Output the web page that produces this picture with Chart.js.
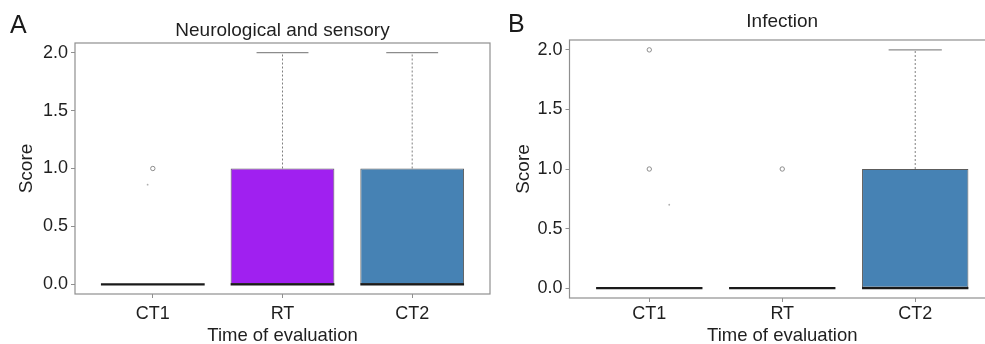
<!DOCTYPE html>
<html>
<head>
<meta charset="utf-8">
<script src="https://cdn.jsdelivr.net/npm/chart.js@4/dist/chart.umd.min.js"></script>
<style>
  body { margin: 0; overflow: hidden; background: #fff; }
  .panel { position: absolute; top: 0; height: 350px; }
  .tag { position: absolute; font: 25px/25px 'Liberation Sans', Arial, sans-serif; color: #1a1a1a; }
</style>
</head>
<body>
<div class="panel" style="left:0;width:495px"><canvas id="chartA"></canvas></div>
<div class="panel" style="left:490px;width:510px"><canvas id="chartB"></canvas></div>
<div class="tag" style="left:10px;top:12px">A</div>
<div class="tag" style="left:508px;top:11px">B</div>
<script>
const categories = ['CT1', 'RT', 'CT2']
const xPositions = [1, 2, 3]
const yTicks = [0, 0.5, 1, 1.5, 2]

// A: neurological and sensory
const neuroQ1 = [0, 0, 0]
const neuroMedian = [0, 0, 0]
const neuroQ3 = [0, 1, 1]
const neuroWhiskerHigh = [0, 2, 2]
const neuroOutliers = [{ x: 1, y: 1 }]
const neuroStray = [{ x: 0.96, y: 0.86 }]
const neuroColors = ['#ffffff', '#a020f0', '#4682b4']

// B: infection
const infQ1 = [0, 0, 0]
const infMedian = [0, 0, 0]
const infQ3 = [0, 0, 1]
const infWhiskerHigh = [0, 0, 2]
const infOutliers = [{ x: 1, y: 2 }, { x: 1, y: 1 }, { x: 2, y: 1 }]
const infStray = [{ x: 1.15, y: 0.7 }]
const infColors = ['#ffffff', '#ffffff', '#4682b4']

const textColor = '#1f1f1f'
const frameColor = '#8f8f8f'
Chart.defaults.font.family = "'Liberation Sans', Arial, sans-serif"

const drawPanel = (canvasId, p) => {
  // whiskers, caps and medians, placed through the chart scales
  const boxParts = {
    id: 'boxParts',
    afterDatasetsDraw(chart) {
      const { ctx, scales: { x, y } } = chart
      const bars = chart.getDatasetMeta(0).data
      ctx.save()
      bars.forEach((bar, i) => {
        const cx = x.getPixelForValue(xPositions[i])
        const half = bar.width / 2
        if (p.high[i] > p.q3[i]) {
          const top = y.getPixelForValue(p.high[i])
          ctx.strokeStyle = '#808080'
          ctx.lineWidth = 1
          ctx.setLineDash([2, 2])
          ctx.beginPath(); ctx.moveTo(cx, y.getPixelForValue(p.q3[i])); ctx.lineTo(cx, top); ctx.stroke()
          ctx.setLineDash([])
          ctx.strokeStyle = '#8c8c8c'
          ctx.lineWidth = 1.3
          ctx.beginPath(); ctx.moveTo(cx - half / 2, top); ctx.lineTo(cx + half / 2, top); ctx.stroke()
        }
        const my = y.getPixelForValue(p.median[i])
        ctx.strokeStyle = '#1a1a1a'
        ctx.lineWidth = 2.2
        ctx.beginPath(); ctx.moveTo(cx - half, my); ctx.lineTo(cx + half, my); ctx.stroke()
      })
      ctx.restore()
    },
    afterDraw(chart) {
      const { ctx, chartArea: a } = chart
      ctx.save()
      ctx.strokeStyle = frameColor
      ctx.lineWidth = 1.2
      ctx.strokeRect(a.left, a.top, a.width, a.height)
      ctx.restore()
    },
  }

  new Chart(document.getElementById(canvasId), {
    type: 'bar',
    data: {
      datasets: [
        {
          data: xPositions.map((x, i) => ({ x, y: [p.q1[i], p.q3[i]] })),
          backgroundColor: p.colors,
          borderColor: '#5c5c5c',
          borderWidth: 1,
          borderSkipped: false,
          barPercentage: 0.8,
          categoryPercentage: 1,
        },
        { type: 'scatter', data: p.outliers, pointRadius: 2.2, pointBorderWidth: 1, pointBorderColor: '#8c8c8c', pointBackgroundColor: 'rgba(0,0,0,0)' },
        { type: 'scatter', data: p.stray, pointRadius: 0.9, pointBorderWidth: 0, pointBackgroundColor: '#b0b0b0' },
      ],
    },
    options: {
      responsive: true,
      maintainAspectRatio: false,
      animation: false,
      layout: { padding: { left: 0, right: p.padRight, top: 0, bottom: 0 } },
      plugins: { legend: { display: false }, tooltip: { enabled: false } },
      scales: {
        x: {
          type: 'linear', min: 0.4, max: 3.6, offset: false,
          afterBuildTicks: s => { s.ticks = xPositions.map(value => ({ value })) },
          afterFit: s => { s.height = p.xAxisHeight },
          grid: { offset: false, drawOnChartArea: false, tickLength: 4, color: frameColor },
          border: { display: false },
          ticks: { padding: p.xTickPad, color: textColor, font: { size: 18 }, callback: v => categories[xPositions.indexOf(v)] },
          title: { display: true, text: 'Time of evaluation', color: textColor, font: { size: 18.5 }, padding: { top: 0, bottom: 3 } },
        },
        titleAxis: {
          type: 'linear', position: 'top', min: 0, max: 1,
          afterFit: s => { s.height = p.plotTop },
          grid: { display: false },
          border: { display: false },
          ticks: { display: false },
          title: { display: true, text: p.title, color: textColor, font: { size: 19 }, padding: { top: p.titlePad, bottom: 0 } },
        },
        y: {
          min: -0.083, max: 2.083,
          afterBuildTicks: s => { s.ticks = yTicks.map(value => ({ value })) },
          afterFit: s => { s.width = p.yAxisWidth },
          grid: { drawOnChartArea: false, tickLength: 4, color: frameColor },
          border: { display: false },
          ticks: { padding: 3, color: textColor, font: { size: 18 }, callback: v => v.toFixed(1) },
          title: { display: true, text: 'Score', color: textColor, font: { size: 19 }, padding: { top: p.yTitlePad, bottom: 0 } },
        },
      },
    },
    plugins: [boxParts],
  })
}

drawPanel('chartA', {
  title: 'Neurological and sensory',
  q1: neuroQ1, median: neuroMedian, q3: neuroQ3, high: neuroWhiskerHigh,
  outliers: neuroOutliers, stray: neuroStray, colors: neuroColors,
  padRight: 3, plotTop: 43, titlePad: 19.6, xAxisHeight: 56, xTickPad: 5, yAxisWidth: 75, yTitlePad: 15.6,
})

drawPanel('chartB', {
  title: 'Infection',
  q1: infQ1, median: infMedian, q3: infQ3, high: infWhiskerHigh,
  outliers: infOutliers, stray: infStray, colors: infColors,
  padRight: 3.5, plotTop: 40, titlePad: 10.1, xAxisHeight: 52, xTickPad: 1.5, yAxisWidth: 79.5, yTitlePad: 22.8,
})
</script>
</body>
</html>
